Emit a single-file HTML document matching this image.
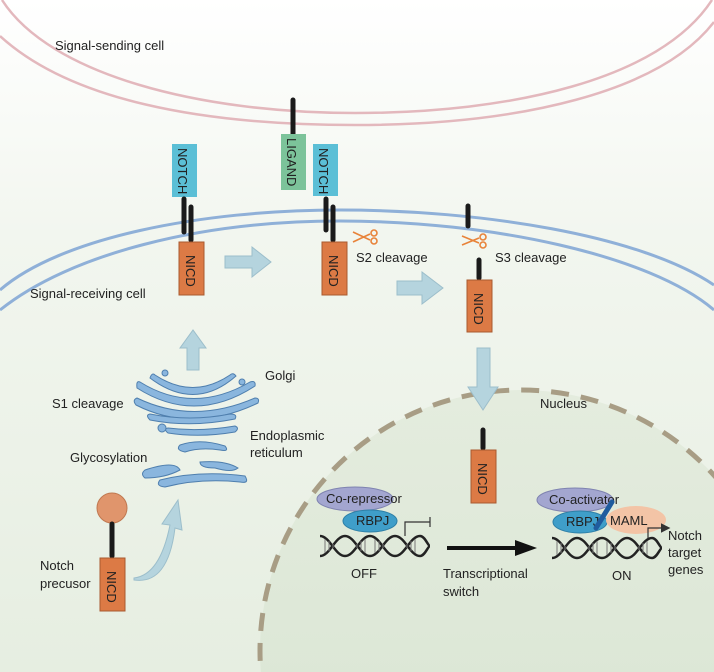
<!DOCTYPE html>
<html><head><meta charset="utf-8"><style>
html,body{margin:0;width:714px;height:672px;overflow:hidden;background:#fff}
svg{display:block}
text{font-family:"Liberation Sans",sans-serif;fill:#222;font-size:13px}
</style></head><body>
<svg width="714" height="672" viewBox="0 0 714 672">
<defs>
<linearGradient id="bg" x1="0" y1="0" x2="0" y2="1">
<stop offset="0" stop-color="#ffffff"/><stop offset="0.35" stop-color="#f2f6ef"/><stop offset="1" stop-color="#e6eee1"/>
</linearGradient>
<linearGradient id="nuc" x1="0" y1="0" x2="0" y2="1">
<stop offset="0" stop-color="#e4ecde"/><stop offset="1" stop-color="#d6e3d0"/>
</linearGradient>
<marker id="ah" markerWidth="8" markerHeight="8" refX="6" refY="4" orient="auto"><path d="M0,0 L8,4 L0,8 z" fill="#333"/></marker>
<clipPath id="cl"><rect width="714" height="672"/></clipPath>
</defs>
<g clip-path="url(#cl)">
<rect width="714" height="672" fill="url(#bg)"/>
<!-- sending cell membrane -->
<path d="M2,0 C50,75 200,113 355,113 C510,113 660,80 712,0" fill="none" stroke="#e3b8bd" stroke-width="2.5"/>
<path d="M0,36 C70,100 200,125 355,125 C520,125 660,92 714,22" fill="none" stroke="#e3b8bd" stroke-width="2.5"/>
<text x="55" y="50">Signal-sending cell</text>
<!-- receiving membrane -->
<path d="M0,290 C60,238 200,210 340,210 C480,210 640,235 714,285" fill="none" stroke="#8fb0d8" stroke-width="3"/>
<path d="M0,310 C70,254 200,221 340,221 C490,221 650,255 714,310" fill="none" stroke="#8fb0d8" stroke-width="3"/>
<text x="30" y="298">Signal-receiving cell</text>
<!-- nucleus -->
<circle cx="521" cy="651" r="261" fill="url(#nuc)" stroke="#a89d85" stroke-width="5" stroke-dasharray="18 12"/>
<text x="540" y="408">Nucleus</text>
<!-- left receptor -->
<rect x="172" y="144" width="25" height="53" fill="#5bbfd6"/>
<text transform="translate(178,148) rotate(90)" font-size="12">NOTCH</text>
<line x1="184" y1="199" x2="184" y2="232" stroke="#1a1a1a" stroke-width="5" stroke-linecap="round"/>
<line x1="191" y1="207" x2="191" y2="240" stroke="#1a1a1a" stroke-width="5" stroke-linecap="round"/>
<rect x="179" y="242" width="25" height="53" fill="#dc7a45" stroke="#a95a30"/>
<text transform="translate(186,255) rotate(90)" font-size="12">NICD</text>
<!-- right arrow 1 -->
<path d="M225,256 H252 V247 L271,262 L252,277 V268 H225 z" fill="#b5d4de" stroke="#9cbecb"/>
<!-- ligand -->
<line x1="293" y1="100" x2="293" y2="134" stroke="#1a1a1a" stroke-width="5" stroke-linecap="round"/>
<rect x="281" y="134" width="25" height="56" fill="#7cc39a"/>
<text transform="translate(287,138) rotate(90)" font-size="12">LIGAND</text>
<rect x="313" y="144" width="25" height="52" fill="#5bbfd6"/>
<text transform="translate(319,148) rotate(90)" font-size="12">NOTCH</text>
<line x1="326" y1="199" x2="326" y2="230" stroke="#1a1a1a" stroke-width="5" stroke-linecap="round"/>
<line x1="333" y1="207" x2="333" y2="240" stroke="#1a1a1a" stroke-width="5" stroke-linecap="round"/>
<rect x="322" y="242" width="25" height="53" fill="#dc7a45" stroke="#a95a30"/>
<text transform="translate(329,255) rotate(90)" font-size="12">NICD</text>
<!-- scissors S2 -->
<g stroke="#e8833a" stroke-width="1.6" fill="none"><path d="M353,232 L370,240 M353,242 L370,234"/><circle cx="374" cy="233" r="3"/><circle cx="374" cy="241" r="3"/></g>
<text x="356" y="262">S2 cleavage</text>
<!-- S3 -->
<line x1="468" y1="206" x2="468" y2="226" stroke="#1a1a1a" stroke-width="5" stroke-linecap="round"/>
<g stroke="#e8833a" stroke-width="1.6" fill="none"><path d="M462,236 L479,243 M462,245 L479,238"/><circle cx="483" cy="237" r="3"/><circle cx="483" cy="245" r="3"/></g>
<text x="495" y="262">S3 cleavage</text>
<path d="M397,281 H422 V272 L443,288 L422,304 V295 H397 z" fill="#b5d4de" stroke="#9cbecb"/>
<line x1="479" y1="260" x2="479" y2="278" stroke="#1a1a1a" stroke-width="5" stroke-linecap="round"/>
<rect x="467" y="280" width="25" height="52" fill="#dc7a45" stroke="#a95a30"/>
<text transform="translate(474,293) rotate(90)" font-size="12">NICD</text>
<path d="M477,348 H490 V387 H498 L483,410 L468,387 H477 z" fill="#b5d4de" stroke="#9cbecb"/>
<!-- nucleus NICD -->
<line x1="483" y1="430" x2="483" y2="448" stroke="#1a1a1a" stroke-width="5" stroke-linecap="round"/>
<rect x="471" y="450" width="25" height="53" fill="#dc7a45" stroke="#a95a30"/>
<text transform="translate(478,463) rotate(90)" font-size="12">NICD</text>
<!-- OFF complex -->
<ellipse cx="355" cy="499" rx="38" ry="12" fill="#a3a6d0" stroke="#7f83b0"/>
<text x="326" y="503" font-size="11">Co-repressor</text>
<ellipse cx="370" cy="521" rx="27" ry="11" fill="#3f9ec9" stroke="#2d7fa6"/>
<text x="356" y="525" font-size="11">RBPJ</text>
<g id="dna"><path d="M320,536 C330,536 335,556 345,556 C355,556 360,536 370,536 C380,536 385,556 395,556 C405,556 410,536 420,536 C425,536 428,546 430,546" fill="none" stroke="#222" stroke-width="2.5"/>
<path d="M320,556 C330,556 335,536 345,536 C355,536 360,556 370,556 C380,556 385,536 395,536 C405,536 410,556 420,556 C425,556 428,546 430,546" fill="none" stroke="#222" stroke-width="2.5"/>
<path d="M325,539v14M329,541v10M333,544v4M357,544v4M361,541v10M365,539v14M375,539v14M379,541v10M383,544v4M407,544v4M411,541v10M415,539v14" stroke="#777" stroke-width="1"/></g>
<path d="M405,536 V522 H430 M430,517 V527" fill="none" stroke="#333" stroke-width="1.2"/>
<text x="351" y="578">OFF</text>
<line x1="447" y1="548" x2="520" y2="548" stroke="#111" stroke-width="4"/>
<path d="M515,540 L537,548 L515,556 z" fill="#111"/>
<text x="443" y="578">Transcriptional</text>
<text x="443" y="596">switch</text>
<!-- ON complex -->
<ellipse cx="575" cy="500" rx="38" ry="12" fill="#a3a6d0" stroke="#7f83b0"/>
<text x="549" y="504" font-size="11">Co-activator</text>
<ellipse cx="580" cy="522" rx="27" ry="11" fill="#3f9ec9" stroke="#2d7fa6"/>
<text x="566" y="526" font-size="11">RBPJ</text>
<ellipse cx="636" cy="520" rx="30" ry="14" fill="#f3c4a6"/>
<text x="610" y="525" font-size="13">MAML</text>
<line x1="612" y1="502" x2="596" y2="528" stroke="#1f5c9e" stroke-width="5" stroke-linecap="round"/>
<use href="#dna" transform="translate(232,2)"/>
<path d="M648,538 V528 H668" fill="none" stroke="#333" stroke-width="1.2" marker-end="url(#ah)"/>
<text x="612" y="580">ON</text>
<text x="668" y="540">Notch</text>
<text x="668" y="557">target</text>
<text x="668" y="574">genes</text>
<!-- up arrow -->
<path d="M187,370 V348 H180 L193,330 L206,348 H199 V370 z" fill="#b5d4de" stroke="#9cbecb"/>
<!-- golgi -->
<g fill="#8ab6de" stroke="#4f7fae" stroke-width="1">
<path d="M155,375 Q193,400 230,375 Q233,372 236,376 Q195,412 150,378 Q152,372 155,375z"/>
<path d="M140,382 Q193,415 250,382 Q256,380 255,386 Q195,425 137,388 Q136,380 140,382z"/>
<path d="M137,398 Q193,425 255,398 Q260,398 258,403 Q193,434 136,405 Q132,400 137,398z"/>
<path d="M150,414 Q190,422 230,414 Q238,414 235,419 Q190,428 150,420 Q145,415 150,414z"/>
<path d="M168,428 Q200,432 235,426 Q240,428 235,432 Q200,438 168,433 Q163,429 168,428z"/>
<circle cx="162" cy="428" r="4"/><circle cx="165" cy="373" r="3"/><circle cx="242" cy="382" r="3"/>
<path d="M180,445 Q200,438 225,446 Q230,452 220,450 Q200,447 185,452 Q175,450 180,445z"/>
<path d="M145,470 Q175,460 180,470 Q165,478 145,478 Q140,474 145,470z"/>
<path d="M160,480 Q200,470 245,476 Q250,484 240,482 Q200,478 165,487 Q155,486 160,480z"/>
<path d="M200,462 Q225,460 238,468 Q232,473 215,468 Q200,468 200,462z"/>
</g>
<text x="265" y="380">Golgi</text>
<text x="52" y="408">S1 cleavage</text>
<text x="250" y="440">Endoplasmic</text>
<text x="250" y="457">reticulum</text>
<text x="70" y="462">Glycosylation</text>
<!-- precursor -->
<circle cx="112" cy="508" r="15" fill="#e0956c" stroke="#c07850"/>
<line x1="112" y1="524" x2="112" y2="556" stroke="#1a1a1a" stroke-width="5" stroke-linecap="round"/>
<rect x="100" y="558" width="25" height="53" fill="#dc7a45" stroke="#a95a30"/>
<text transform="translate(107,571) rotate(90)" font-size="12">NICD</text>
<text x="40" y="570">Notch</text>
<text x="40" y="588">precusor</text>
<path d="M134,578 Q160,575 170,525 L162,524 L178,500 L182,530 L175,528 Q168,585 134,580z" fill="#b5d4de" stroke="#9cbecb"/>
</g>
</svg>
</body></html>
